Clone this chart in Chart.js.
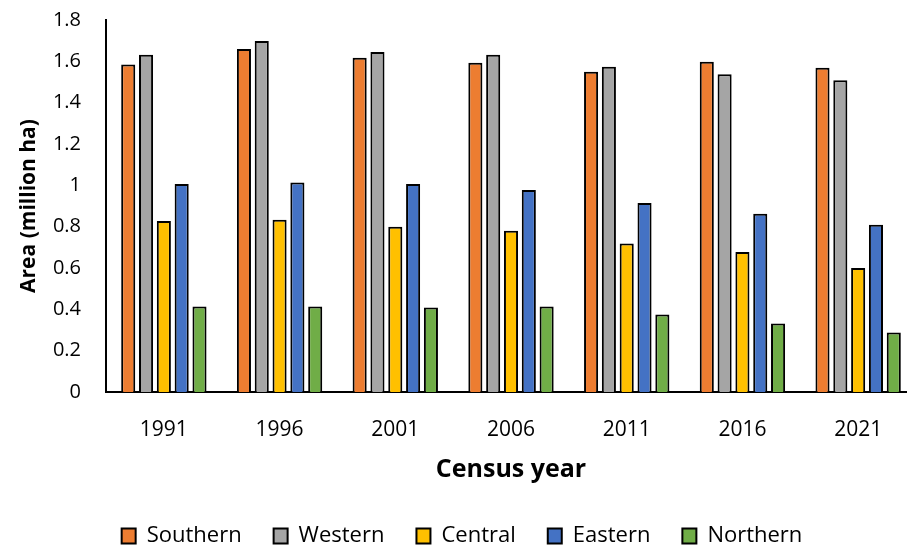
<!DOCTYPE html>
<html>
<head>
<meta charset="utf-8">
<script src="https://cdn.jsdelivr.net/npm/chart.js@4/dist/chart.umd.min.js"></script>
<style>
  html, body { margin: 0; padding: 0; background: #fff; overflow: hidden; }
  #wrap { width: 907px; height: 548px; overflow: hidden; }
  canvas { display: block; }
</style>
</head>
<body>
<div id="wrap"><canvas id="c" width="917" height="560"></canvas></div>
<script>
// Census years on the category axis
const years = ['1991', '1996', '2001', '2006', '2011', '2016', '2021'];

// Area per region, million ha
const southern = [1.585, 1.660, 1.617, 1.593, 1.550, 1.598, 1.569];
const western  = [1.632, 1.698, 1.645, 1.632, 1.574, 1.537, 1.508];
const central  = [0.828, 0.833, 0.799, 0.780, 0.719, 0.677, 0.600];
const eastern  = [1.006, 1.014, 1.006, 0.977, 0.915, 0.862, 0.809];
const northern = [0.414, 0.414, 0.409, 0.414, 0.375, 0.331, 0.288];

// Value-axis range
const yMin = 0, yMax = 1.8, yStep = 0.2;

const fontFamily = '"Open Sans", "Noto Sans", sans-serif';

function series(label, data, color) {
  return {
    label, data,
    backgroundColor: color,
    borderColor: '#000',
    borderWidth: 2,
    borderSkipped: 'bottom',
    categoryPercentage: 0.77,
    barPercentage: 0.79
  };
}

new Chart(document.getElementById('c'), {
  type: 'bar',
  data: {
    labels: years,
    datasets: [
      series('Southern', southern, '#ED7D31'),
      series('Western',  western,  '#A5A5A5'),
      series('Central',  central,  '#FFC000'),
      series('Eastern',  eastern,  '#4472C4'),
      series('Northern', northern, '#70AD47')
    ]
  },
  options: {
    responsive: false,
    animation: false,
    layout: { padding: { top: 20, right: 1, bottom: 3, left: 8 } },
    plugins: {
      tooltip: { enabled: false },
      legend: {
        position: 'bottom',
        labels: {
          color: '#000',
          font: { family: fontFamily, size: 22 },
          boxWidth: 14,
          boxHeight: 15,
          padding: 32
        }
      }
    },
    scales: {
      x: {
        grid: { display: false, drawTicks: false },
        border: { display: true, color: '#000', width: 2 },
        ticks: { color: '#000', font: { family: fontFamily, size: 21 }, padding: 25 },
        title: {
          display: true, text: 'Census year', color: '#000',
          font: { family: fontFamily, size: 25, weight: 'bold' },
          padding: { top: 4, bottom: 8 }
        },
        afterFit: scale => { scale.height = 101; }
      },
      y: {
        min: yMin, max: yMax,
        grid: { display: false, drawTicks: false },
        border: { display: true, color: '#000', width: 2 },
        ticks: {
          stepSize: yStep, color: '#000', padding: 25,
          font: { family: fontFamily, size: 20 },
          callback: v => String(Math.round(v * 10) / 10)
        },
        title: {
          display: true, text: 'Area (million ha)', color: '#000',
          font: { family: fontFamily, size: 21, weight: 'bold' },
          padding: { top: 8, bottom: 0 }
        },
        afterFit: scale => {
          scale.width = 98;
          // the label gap is horizontal only; keep it out of the top/bottom insets
          scale.paddingTop = 0;
          scale.paddingBottom = 0;
        }
      }
    }
  }
});
</script>
</body>
</html>
